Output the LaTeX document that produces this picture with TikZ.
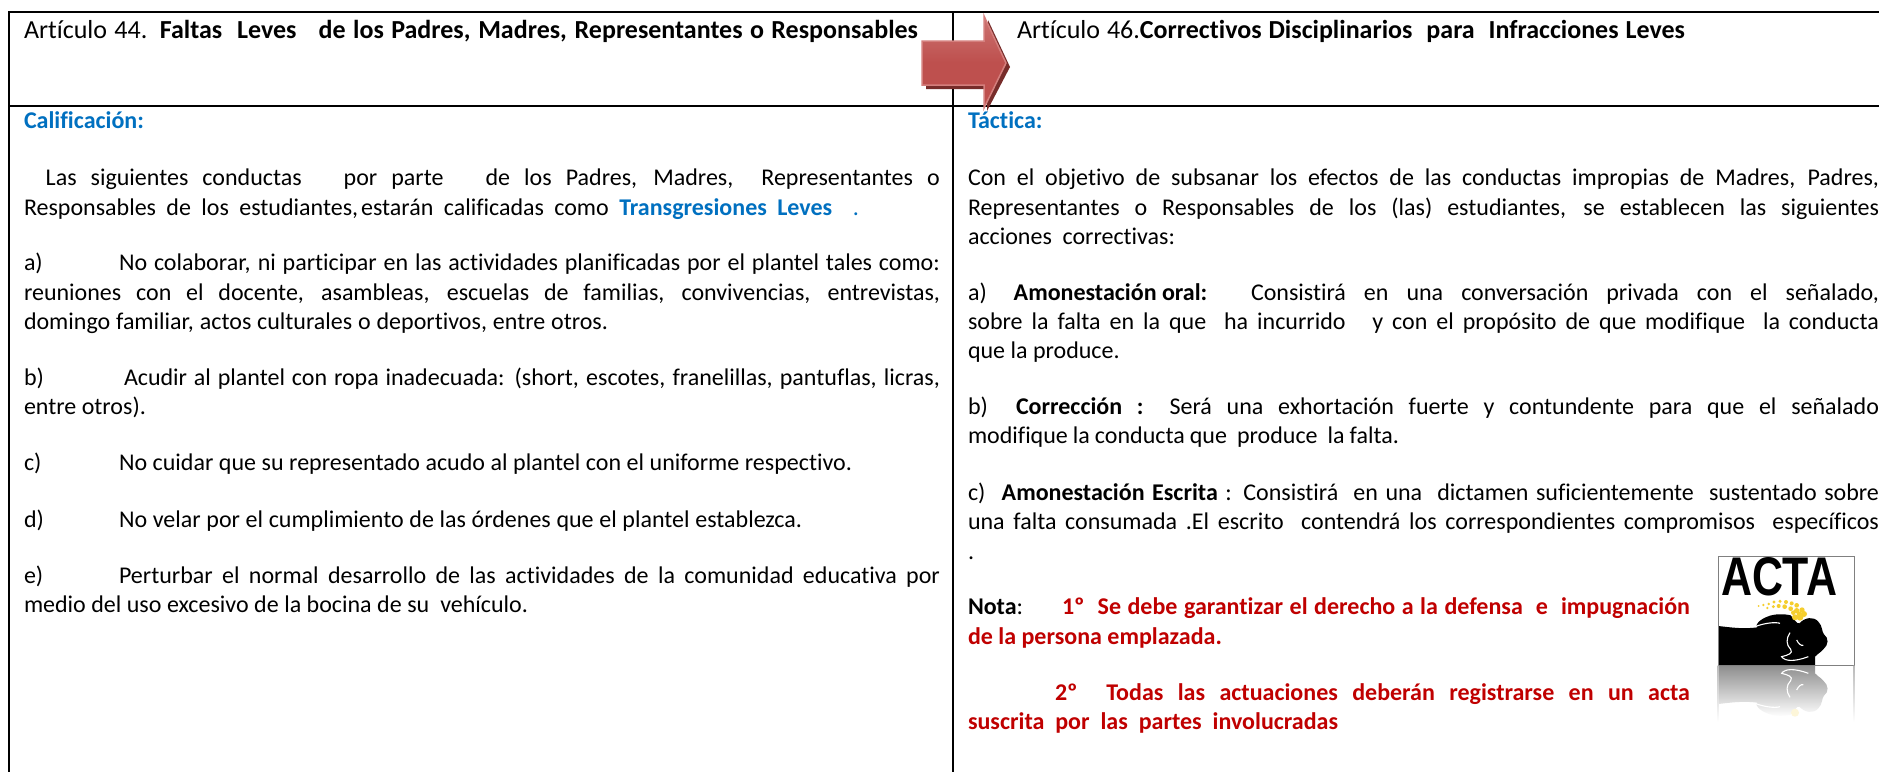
\documentclass[tikz,border=0pt]{standalone}
\usepackage{fontspec}
\setmainfont{Carlito}[RawFeature=-liga]
\newfontfamily\logofont{Liberation Sans}
\definecolor{azul}{HTML}{0070C0}
\definecolor{rojo}{HTML}{C00000}
\definecolor{flecha}{HTML}{BE504E}
\definecolor{flechaclara}{HTML}{CC7472}
\definecolor{flechaborde}{HTML}{D47F7D}
\definecolor{flechasombra}{HTML}{772C2A}
\definecolor{maiz}{HTML}{F5CE2E}
\tikzset{
  txt/.style={anchor=base west,inner sep=0pt,outer sep=0pt,font=\fontsize{24pt}{29pt}\selectfont,text=black},
  titulo/.style={txt,font=\fontsize{26pt}{31pt}\selectfont},
  rule/.style={line width=2pt,black}
}
\newcommand{\jl}[5]{\node[txt] (#1) at (#2,#3) {\makebox[#4pt][s]{#5}};}
\newcommand{\tl}[4]{\node[txt] (#1) at (#2,#3) {#4};}
\newcommand{\rb}[1]{{\bfseries\color{rojo}#1}}
\newcommand{\bullshape}{(115,258) .. controls (150,262) and (190,268) .. (232,262)
  .. controls (222,256) and (240,238) .. (262,230) .. controls (285,220) and (315,222) .. (332,226)
  .. controls (345,240) and (350,252) .. (358,250) .. controls (375,232) and (400,228) .. (415,245)
  .. controls (428,258) and (425,275) .. (432,283) .. controls (448,295) and (445,315) .. (430,328)
  .. controls (420,340) and (410,342) .. (405,350) -- (405,375) -- (115,375) -- cycle}
\newcommand{\bulllines}{(330,278) .. controls (318,295) and (318,315) .. (332,328)
  .. controls (340,340) and (325,345) .. (305,350) .. controls (315,365) and (345,365) .. (385,350)
  (225,260) .. controls (250,250) and (285,245) .. (300,250)
  (350,300) .. controls (355,310) and (362,318) .. (370,316)}
\begin{document}
\begin{tikzpicture}[x=1pt,y=-1pt]
\useasboundingbox (0,0) rectangle (1879,772);
\fill[white] (0,0) rectangle (1879,772);
% table rules
\draw[rule] (9,12) -- (1879,12);
\draw[rule] (9,105.5) -- (1879,105.5);
\draw[rule] (9,11) -- (9,772);
\draw[rule] (953,12) -- (953,772);
% titles
\node[titulo] (t1) at (24,38) {\makebox[894pt][s]{Artículo 44. \textbf{Faltas\ \ Leves\ \ \ de los Padres, Madres, Representantes o Responsables}}};
\node[titulo] (t2) at (1017,38) {\makebox[668pt][s]{Artículo 46.\textbf{Correctivos Disciplinarios\ \ para\ \ Infracciones Leves}}};
% left column
\tl{l0}{24}{128}{\textbf{\color{azul}Calificación:}}
\jl{l1}{45.7}{185}{894}{Las siguientes conductas\ \ \ por parte\ \ \ de los Padres, Madres,\ \ Representantes o}
\jl{l2}{24}{215}{835}{Responsables de los estudiantes,{\hskip 3pt}estarán calificadas como \textbf{\color{azul}Transgresiones Leves}\ \ \textcolor{azul}{.}}
\tl{l3a}{24}{270}{a)}
\jl{l3}{119}{270}{821}{No colaborar, ni participar en las actividades planificadas por el plantel tales como:}
\jl{l4}{24}{300}{916}{reuniones con el docente, asambleas, escuelas de familias, convivencias, entrevistas,}
\jl{l5}{24}{329}{584}{domingo familiar, actos culturales o deportivos, entre otros.}
\tl{l6a}{24}{385}{b)}
\jl{l6}{124}{385}{816}{Acudir al plantel con ropa inadecuada: (short, escotes, franelillas, pantuflas, licras,}
\tl{l7}{24}{414}{entre otros).}
\tl{l8a}{24}{470}{c)}
\jl{l8}{119}{470}{733}{No cuidar que su representado acudo al plantel con el uniforme respectivo.}
\tl{l9a}{24}{527}{d)}
\jl{l9}{119}{527}{683}{No velar por el cumplimiento de las órdenes que el plantel establezca.}
\tl{l10a}{24}{583}{e)}
\jl{l10}{119}{583}{821}{Perturbar el normal desarrollo de las actividades de la comunidad educativa por}
\jl{l11}{24}{612}{504}{medio del uso excesivo de la bocina de su\ \ vehículo.}
% right column
\tl{r0}{968}{128}{\textbf{\color{azul}Táctica:}}
\jl{r1}{968}{185}{911}{Con el objetivo de subsanar los efectos de las conductas impropias de Madres, Padres,}
\jl{r2}{968}{215}{911}{Representantes o Responsables de los (las) estudiantes, se establecen las siguientes}
\jl{r3}{968}{244}{207}{acciones\ \ correctivas:}
\tl{r4a}{968}{300}{a)}
\tl{r4b}{1013.7}{300}{\textbf{Amonestación oral:}}
\jl{r4}{1251}{300}{628}{Consistirá en una conversación privada con el señalado,}
\jl{r5}{968}{329}{911}{sobre la falta en la que\ \ ha incurrido\ \ \ y con el propósito de que modifique\ \ la conducta}
\tl{r6}{968}{358}{que la produce.}
\tl{r7a}{968}{414}{b)}
\jl{r7}{1016}{414}{863}{\textbf{Corrección :} Será una exhortación fuerte y contundente para que el señalado}
\jl{r8}{968}{443}{431}{modifique la conducta que\ \ produce\ \ la falta.}
\tl{r9a}{968}{500}{c)}
\jl{r9}{1001.7}{500}{877.3}{\textbf{Amonestación Escrita} : Consistirá\ \ en una\ \ dictamen suficientemente\ \ sustentado sobre}
\jl{r10}{968}{529}{911}{una falta consumada .El escrito\ \ contendrá los correspondientes compromisos\ \ específicos}
\tl{r11}{968}{559}{.}
\tl{r12a}{968}{614}{\textbf{Nota}:}
\jl{r12}{1062}{614}{628}{\rb{1º\ \ Se debe garantizar el derecho a la defensa\ \ e\ \ impugnación}}
\tl{r13}{968}{644}{\rb{de la persona emplazada.}}
\jl{r14}{1055}{700}{635}{\rb{2º\ \ Todas las actuaciones deberán registrarse en un acta}}
\jl{r15}{968}{729}{370}{\rb{suscrita por las partes involucradas}}
% arrow
\fill[flechasombra] (926,60) -- (988,60) -- (988,20) -- (1010,67) -- (987,111) -- (987,89) -- (926,89) -- cycle;
\shade[top color=flechaclara,bottom color=flecha,middle color=flecha,draw=flechaborde,line width=1.5pt,line join=miter]
  (922,41) -- (984,41) -- (984,16) -- (1006,63) -- (984,108) -- (984,85) -- (922,85) -- cycle;
% logo
\fill[white] (1718,556) rectangle (1854,665);
\node[inner sep=0pt,outer sep=0pt,anchor=center,text=black] (acta) at (1779,577)
  {\resizebox{116pt}{38pt}{\logofont\bfseries ACTA}};
\begin{scope}[shift={(1680,540)},x=0.3333pt,y=-0.3333pt]
  \fill[black] \bullshape;
  \draw[white,line width=1.1pt] \bulllines;
  \foreach \a/\b/\r in {236/198/3,250/195/4,266/192/4,282/186/5,300/184/5,318/186/6,335/190/6,350/196/7,
    262/204/4,280/200/5,296/198/6,314/200/7,332/206/7,350/212/8,366/210/8,345/232/9,360/232/10,372/222/9,
    340/218/7,358/222/8}
    \fill[maiz] (\a,\b) circle[radius=\r*0.3333pt];
\end{scope}
% reflection
\begin{scope}[shift={(1680,790)},x=0.3333pt,y=0.3333pt]
  \shade[top color=gray!90,bottom color=white] \bullshape;
  \draw[white,line width=1.1pt] \bulllines;
  \fill[maiz!18] (345,232) circle[radius=4pt];
\end{scope}
\draw[gray,line width=0.8pt] (1718,556) rectangle (1854,665);
\shade[top color=gray!55,bottom color=white] (1717.6,665) rectangle (1718.4,722);
\shade[top color=gray!55,bottom color=white] (1853.6,665) rectangle (1854.4,722);
\end{tikzpicture}
\end{document}
